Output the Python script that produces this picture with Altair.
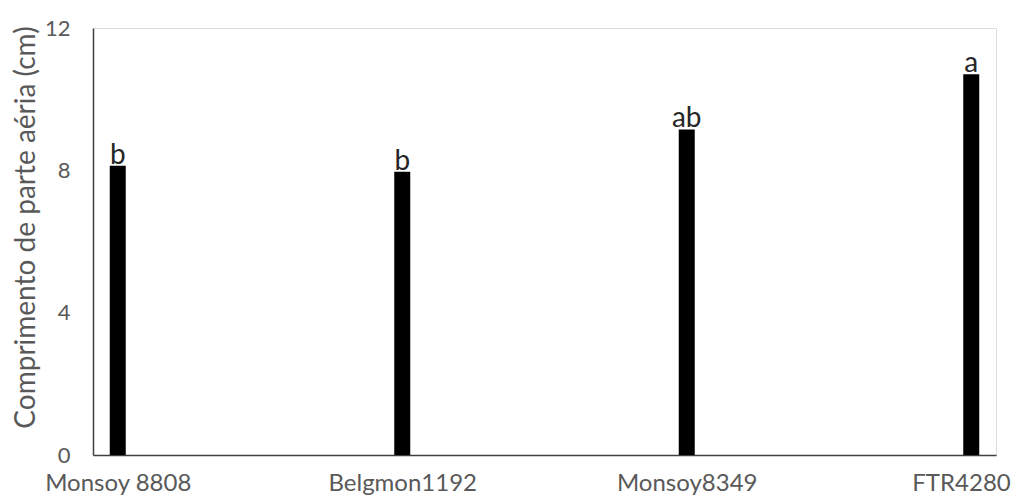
import altair as alt
import pandas as pd

categories = ["Monsoy 8808", "Belgmon1192", "Monsoy8349", "FTR4280"]
values = [8.13, 7.96, 9.15, 10.70]
letters = ["b", "b", "ab", "a"]
y_ticks = [0, 4, 8, 12]

df = pd.DataFrame({"cultivar": categories, "comp": values, "letra": letters})

FONT = "Lato"
GRAY = "#595959"
last_cat = categories[-1]

x = alt.X("cultivar:N", sort=categories,
          scale=alt.Scale(type="point", padding=0.087),
          axis=alt.Axis(title=None, labelAngle=0, labelFont=FONT, labelFontSize=24,
                        labelColor=GRAY, ticks=False, labelPadding=35,
                        labelBaseline="alphabetic", domainColor="#404040",
                        domainWidth=1.5, grid=False,
                        labelAlign={"condition": {"test": f"datum.value === '{last_cat}'",
                                                  "value": "right"},
                                    "value": "center"},
                        labelOffset={"condition": {"test": f"datum.value === '{last_cat}'",
                                                   "value": 39},
                                     "value": 0}))
y = alt.Y("comp:Q", scale=alt.Scale(domain=[0, 12], nice=False),
          axis=alt.Axis(title="Comprimento de parte aéria (cm)", values=y_ticks,
                        labelFont=FONT, labelFontSize=22, labelColor=GRAY,
                        ticks=False, labelPadding=23, grid=False,
                        domainColor="#404040", domainWidth=1.5,
                        titleFont=FONT, titleFontSize=28, titleFontWeight="normal",
                        titleColor=GRAY, titleX=-67, titleY=199,
                        titleBaseline="middle"))

bars = alt.Chart(df).mark_bar(size=16, color="#000000").encode(x=x, y=y)
text = alt.Chart(df).mark_text(baseline="alphabetic", dy=-2, font=FONT,
                               fontSize=28, color="#262626").encode(
    x=alt.X("cultivar:N", sort=categories), y="comp:Q", text="letra:N")

chart = (bars + text).properties(
    width=903, height=427,
    autosize=alt.AutoSizeParams(type="none"),
    padding={"left": 85, "top": 20, "right": 17, "bottom": 44},
).configure_view(stroke=None).configure(background="white")

chart.save("out.html", embed_options={"renderer": "svg", "actions": False})
